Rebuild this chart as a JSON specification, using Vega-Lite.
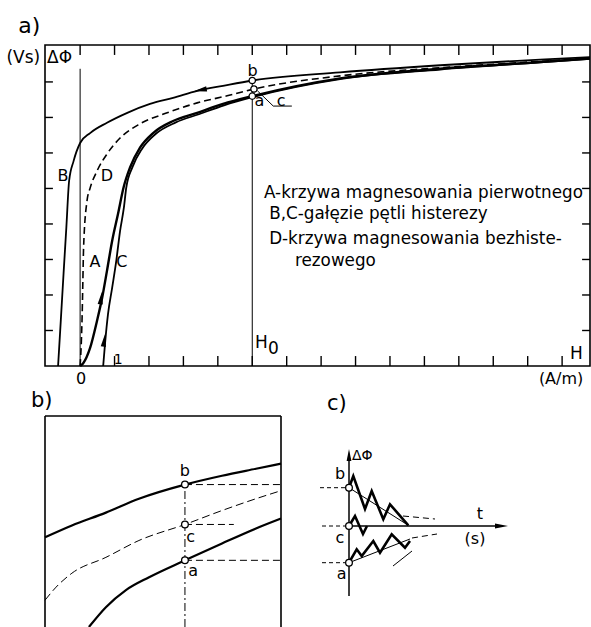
{
  "$schema": "https://vega.github.io/schema/vega-lite/v6.json",
  "padding": {"left": 5, "top": 14, "right": 0, "bottom": 0},
  "bounds": "flush",
  "spacing": 50,
  "config": {
    "view": {"stroke": null},
    "font": "DejaVu Sans",
    "title": {"fontSize": 21, "fontWeight": "normal", "anchor": "start", "frame": "group", "baseline": "alphabetic", "color": "black", "font": "DejaVu Sans"}
  },
  "datasets": {
    "aR": [
      {"s": "ref", "x": 0, "x2": 0, "y": 0, "y2": 8.37},
      {"s": "ref", "x": 5, "x2": 5, "y": 0, "y2": 8.04},
      {"s": "tick", "x": 0, "x2": 0, "y": 9.04, "y2": 8.76},
      {"s": "tick", "x": 1, "x2": 1, "y": 9.04, "y2": 8.76},
      {"s": "tick", "x": 2, "x2": 2, "y": 9.04, "y2": 8.76},
      {"s": "tick", "x": 3, "x2": 3, "y": 9.04, "y2": 8.76},
      {"s": "tick", "x": 4, "x2": 4, "y": 9.04, "y2": 8.76},
      {"s": "tick", "x": 5, "x2": 5, "y": 9.04, "y2": 8.76},
      {"s": "tick", "x": 6, "x2": 6, "y": 9.04, "y2": 8.76},
      {"s": "tick", "x": 7, "x2": 7, "y": 9.04, "y2": 8.76},
      {"s": "tick", "x": 8, "x2": 8, "y": 9.04, "y2": 8.76},
      {"s": "tick", "x": 9, "x2": 9, "y": 9.04, "y2": 8.76},
      {"s": "tick", "x": 10, "x2": 10, "y": 9.04, "y2": 8.76},
      {"s": "tick", "x": 11, "x2": 11, "y": 9.04, "y2": 8.76},
      {"s": "tick", "x": 12, "x2": 12, "y": 9.04, "y2": 8.76},
      {"s": "tick", "x": 13, "x2": 13, "y": 9.04, "y2": 8.76},
      {"s": "tick", "x": 14, "x2": 14, "y": 9.04, "y2": 8.76},
      {"s": "tick", "x": 1, "x2": 1, "y": 0, "y2": 0.28},
      {"s": "tick", "x": 2, "x2": 2, "y": 0, "y2": 0.28},
      {"s": "tick", "x": 3, "x2": 3, "y": 0, "y2": 0.28},
      {"s": "tick", "x": 4, "x2": 4, "y": 0, "y2": 0.28},
      {"s": "tick", "x": 5, "x2": 5, "y": 0, "y2": 0.28},
      {"s": "tick", "x": 6, "x2": 6, "y": 0, "y2": 0.28},
      {"s": "tick", "x": 7, "x2": 7, "y": 0, "y2": 0.28},
      {"s": "tick", "x": 8, "x2": 8, "y": 0, "y2": 0.28},
      {"s": "tick", "x": 9, "x2": 9, "y": 0, "y2": 0.28},
      {"s": "tick", "x": 10, "x2": 10, "y": 0, "y2": 0.28},
      {"s": "tick", "x": 11, "x2": 11, "y": 0, "y2": 0.28},
      {"s": "tick", "x": 12, "x2": 12, "y": 0, "y2": 0.28},
      {"s": "tick", "x": 13, "x2": 13, "y": 0, "y2": 0.28},
      {"s": "tick", "x": 14, "x2": 14, "y": 0, "y2": 0.28},
      {"s": "tick", "x": -1.02, "x2": -0.79, "y": 1, "y2": 1},
      {"s": "tick", "x": -1.02, "x2": -0.79, "y": 2, "y2": 2},
      {"s": "tick", "x": -1.02, "x2": -0.79, "y": 3, "y2": 3},
      {"s": "tick", "x": -1.02, "x2": -0.79, "y": 4, "y2": 4},
      {"s": "tick", "x": -1.02, "x2": -0.79, "y": 5, "y2": 5},
      {"s": "tick", "x": -1.02, "x2": -0.79, "y": 6, "y2": 6},
      {"s": "tick", "x": -1.02, "x2": -0.79, "y": 7, "y2": 7},
      {"s": "tick", "x": -1.02, "x2": -0.79, "y": 8, "y2": 8},
      {"s": "tick", "x": 14.81, "x2": 14.58, "y": 1, "y2": 1},
      {"s": "tick", "x": 14.81, "x2": 14.58, "y": 2, "y2": 2},
      {"s": "tick", "x": 14.81, "x2": 14.58, "y": 3, "y2": 3},
      {"s": "tick", "x": 14.81, "x2": 14.58, "y": 4, "y2": 4},
      {"s": "tick", "x": 14.81, "x2": 14.58, "y": 5, "y2": 5},
      {"s": "tick", "x": 14.81, "x2": 14.58, "y": 6, "y2": 6},
      {"s": "tick", "x": 14.81, "x2": 14.58, "y": 7, "y2": 7},
      {"s": "tick", "x": 14.81, "x2": 14.58, "y": 8, "y2": 8}
    ],
    "aL": [
      {"s": "B", "x": -0.64, "y": 0}, {"s": "B", "x": -0.56, "y": 1.3}, {"s": "B", "x": -0.48, "y": 2.62}, {"s": "B", "x": -0.40, "y": 3.9}, {"s": "B", "x": -0.32, "y": 5.21}, {"s": "B", "x": -0.19, "y": 5.77}, {"s": "B", "x": 0, "y": 6.28}, {"s": "B", "x": 0.29, "y": 6.56}, {"s": "B", "x": 0.78, "y": 6.85}, {"s": "B", "x": 1.37, "y": 7.13}, {"s": "B", "x": 2.03, "y": 7.38}, {"s": "B", "x": 2.70, "y": 7.55}, {"s": "B", "x": 3.40, "y": 7.75}, {"s": "B", "x": 4.15, "y": 7.89}, {"s": "B", "x": 5.0, "y": 8.04}, {"s": "B", "x": 7.55, "y": 8.27}, {"s": "B", "x": 10.46, "y": 8.47}, {"s": "B", "x": 13.36, "y": 8.63}, {"s": "B", "x": 14.81, "y": 8.70},
      {"s": "D", "x": 0, "y": 0}, {"s": "D", "x": 0.04, "y": 0.8}, {"s": "D", "x": 0.06, "y": 1.46}, {"s": "D", "x": 0.08, "y": 2.4}, {"s": "D", "x": 0.10, "y": 3.32}, {"s": "D", "x": 0.20, "y": 4.65}, {"s": "D", "x": 0.29, "y": 5.01}, {"s": "D", "x": 0.49, "y": 5.49}, {"s": "D", "x": 0.78, "y": 5.97}, {"s": "D", "x": 1.16, "y": 6.42}, {"s": "D", "x": 1.74, "y": 6.82}, {"s": "D", "x": 2.53, "y": 7.13}, {"s": "D", "x": 3.40, "y": 7.41}, {"s": "D", "x": 4.27, "y": 7.61}, {"s": "D", "x": 5.05, "y": 7.80}, {"s": "D", "x": 7.55, "y": 8.17}, {"s": "D", "x": 10.46, "y": 8.40}, {"s": "D", "x": 13.36, "y": 8.58}, {"s": "D", "x": 14.81, "y": 8.67},
      {"s": "A", "x": 0, "y": 0}, {"s": "A", "x": 0.09, "y": 0.08}, {"s": "A", "x": 0.29, "y": 0.51}, {"s": "A", "x": 0.49, "y": 1.27}, {"s": "A", "x": 0.64, "y": 1.92}, {"s": "A", "x": 0.78, "y": 2.68}, {"s": "A", "x": 0.93, "y": 3.52}, {"s": "A", "x": 1.10, "y": 4.28}, {"s": "A", "x": 1.26, "y": 5.02}, {"s": "A", "x": 1.45, "y": 5.59}, {"s": "A", "x": 1.74, "y": 6.15}, {"s": "A", "x": 2.12, "y": 6.56}, {"s": "A", "x": 2.70, "y": 6.90}, {"s": "A", "x": 3.40, "y": 7.13}, {"s": "A", "x": 4.15, "y": 7.38}, {"s": "A", "x": 5.0, "y": 7.60}, {"s": "A", "x": 7.55, "y": 8.10}, {"s": "A", "x": 10.46, "y": 8.37}, {"s": "A", "x": 13.36, "y": 8.56}, {"s": "A", "x": 14.81, "y": 8.66},
      {"s": "C", "x": 0.67, "y": 0}, {"s": "C", "x": 0.73, "y": 0.70}, {"s": "C", "x": 0.81, "y": 1.46}, {"s": "C", "x": 0.93, "y": 2.20}, {"s": "C", "x": 1.05, "y": 2.96}, {"s": "C", "x": 1.16, "y": 3.80}, {"s": "C", "x": 1.27, "y": 4.45}, {"s": "C", "x": 1.34, "y": 5.02}, {"s": "C", "x": 1.52, "y": 5.6}, {"s": "C", "x": 1.80, "y": 6.12}, {"s": "C", "x": 2.20, "y": 6.54}, {"s": "C", "x": 2.78, "y": 6.86}, {"s": "C", "x": 3.45, "y": 7.09}, {"s": "C", "x": 4.18, "y": 7.34}, {"s": "C", "x": 5.0, "y": 7.57}, {"s": "C", "x": 7.55, "y": 8.08}, {"s": "C", "x": 10.46, "y": 8.35}, {"s": "C", "x": 13.36, "y": 8.55}, {"s": "C", "x": 14.81, "y": 8.65},
      {"s": "lead", "x": 5.15, "y": 7.75}, {"s": "lead", "x": 5.61, "y": 7.32}, {"s": "lead", "x": 6.15, "y": 7.32}
    ],
    "aP": [
      {"x": 5, "y": 8.04}, {"x": 5.05, "y": 7.80}, {"x": 5, "y": 7.60}
    ],
    "aArrow": [
      {"d": "up", "x": 0.61, "y": 1.92}, {"d": "up", "x": 0.70, "y": 0.73}, {"d": "left", "x": 3.49, "y": 7.77}
    ],
    "aT": [
      {"g": "lab", "t": "B", "x": -0.50, "y": 5.35},
      {"g": "lab", "t": "D", "x": 0.78, "y": 5.35},
      {"g": "lab", "t": "A", "x": 0.43, "y": 2.93},
      {"g": "lab", "t": "C", "x": 1.21, "y": 2.93},
      {"g": "lab", "t": "b", "x": 5.01, "y": 8.31},
      {"g": "lab", "t": "a", "x": 5.21, "y": 7.45},
      {"g": "lab", "t": "c", "x": 5.84, "y": 7.47},
      {"g": "leg", "t": "A-krzywa magnesowania pierwotnego", "x": 5.34, "y": 4.73},
      {"g": "leg", "t": "B,C-gałęzie pętli histerezy", "x": 5.49, "y": 4.14},
      {"g": "leg", "t": "D-krzywa magnesowania bezhiste-", "x": 5.49, "y": 3.44},
      {"g": "leg", "t": "rezowego", "x": 6.24, "y": 2.82},
      {"g": "ctr", "t": "0", "x": 0.03, "y": -0.37},
      {"g": "ctr", "t": "(A/m)", "x": 13.97, "y": -0.37},
      {"g": "H", "t": "H", "x": 5.08, "y": 0.51},
      {"g": "H", "t": "0", "x": 5.46, "y": 0.34},
      {"g": "H", "t": "H", "x": 14.23, "y": 0.2},
      {"g": "one", "t": "1", "x": 0.98, "y": 0.06},
      {"g": "vs", "t": "(Vs)", "x": -1.16, "y": 8.68},
      {"g": "phi", "t": "ΔΦ", "x": -0.96, "y": 8.68},
      {"g": "panel", "t": "a)", "x": -1.80, "y": 9.38}
    ],
    "bR": [
      {"s": "frame", "x": 0, "x2": 0, "y": 0, "y2": 10},
      {"s": "frame", "x": 0, "x2": 10, "y": 10, "y2": 10},
      {"s": "frame", "x": 10, "x2": 10, "y": 0, "y2": 10},
      {"s": "dd", "x": 5.93, "x2": 5.93, "y": 0, "y2": 6.75},
      {"s": "dash", "x": 5.93, "x2": 10, "y": 6.75, "y2": 6.75},
      {"s": "dash", "x": 5.93, "x2": 8.0, "y": 4.86, "y2": 4.86},
      {"s": "dash", "x": 5.93, "x2": 10, "y": 3.16, "y2": 3.16}
    ],
    "bL": [
      {"s": "top", "x": 0, "y": 4.25}, {"s": "top", "x": 1.14, "y": 4.81}, {"s": "top", "x": 2.58, "y": 5.42}, {"s": "top", "x": 3.98, "y": 6.08}, {"s": "top", "x": 5.93, "y": 6.75}, {"s": "top", "x": 7.5, "y": 7.17}, {"s": "top", "x": 8.94, "y": 7.5}, {"s": "top", "x": 10, "y": 7.74},
      {"s": "mid", "x": 0, "y": 1.27}, {"s": "mid", "x": 0.47, "y": 1.89}, {"s": "mid", "x": 1.14, "y": 2.55}, {"s": "mid", "x": 2.58, "y": 3.30}, {"s": "mid", "x": 3.98, "y": 4.10}, {"s": "mid", "x": 5.93, "y": 4.86}, {"s": "mid", "x": 7.5, "y": 5.52}, {"s": "mid", "x": 8.94, "y": 6.08}, {"s": "mid", "x": 10, "y": 6.46},
      {"s": "bot", "x": 1.86, "y": 0}, {"s": "bot", "x": 2.58, "y": 0.94}, {"s": "bot", "x": 3.43, "y": 1.75}, {"s": "bot", "x": 4.41, "y": 2.36}, {"s": "bot", "x": 5.93, "y": 3.16}, {"s": "bot", "x": 7.5, "y": 3.96}, {"s": "bot", "x": 8.94, "y": 4.67}, {"s": "bot", "x": 10, "y": 5.14}
    ],
    "bP": [
      {"x": 5.93, "y": 6.75}, {"x": 5.93, "y": 4.86}, {"x": 5.93, "y": 3.16}
    ],
    "bT": [
      {"t": "b", "x": 5.93, "y": 7.37},
      {"t": "c", "x": 6.17, "y": 4.26},
      {"t": "a", "x": 6.28, "y": 2.66}
    ],
    "cR": [
      {"s": "axis", "x": 0, "x2": 0, "y": -7.0, "y2": 6.6},
      {"s": "axis", "x": 0, "x2": 14.7, "y": 0, "y2": 0},
      {"s": "dash", "x": -2.9, "x2": -0.4, "y": 3.83, "y2": 3.83},
      {"s": "dash", "x": -2.7, "x2": -0.4, "y": 0, "y2": 0},
      {"s": "dash", "x": -2.7, "x2": -0.4, "y": -3.67, "y2": -3.67}
    ],
    "cL": [
      {"s": "zb", "x": 0, "y": 3.83}, {"s": "zb", "x": 0.43, "y": 5.0}, {"s": "zb", "x": 1.6, "y": 1.7}, {"s": "zb", "x": 2.27, "y": 3.5}, {"s": "zb", "x": 3.43, "y": 0.67}, {"s": "zb", "x": 4.1, "y": 2.17}, {"s": "zb", "x": 5.93, "y": 0.07},
      {"s": "zc", "x": 0, "y": 0}, {"s": "zc", "x": 0.6, "y": 1.0}, {"s": "zc", "x": 1.4, "y": -0.8}, {"s": "zc", "x": 1.8, "y": 0},
      {"s": "za", "x": 0, "y": -3.67}, {"s": "za", "x": 0.77, "y": -2.33}, {"s": "za", "x": 1.27, "y": -3.0}, {"s": "za", "x": 2.43, "y": -1.5}, {"s": "za", "x": 3.1, "y": -2.67}, {"s": "za", "x": 4.27, "y": -0.83}, {"s": "za", "x": 5.6, "y": -2.17}, {"s": "za", "x": 6.1, "y": -1.5},
      {"s": "mb", "x": 0, "y": 3.83}, {"s": "mb", "x": 5.93, "y": 0.07},
      {"s": "ma", "x": 0, "y": -3.67}, {"s": "ma", "x": 6.1, "y": -1.3},
      {"s": "la", "x": 4.4, "y": -4.0}, {"s": "la", "x": 6.3, "y": -2.5},
      {"s": "db", "x": 5.4, "y": 1.0}, {"s": "db", "x": 8.6, "y": 0.7},
      {"s": "da", "x": 6.3, "y": -1.2}, {"s": "da", "x": 8.8, "y": -0.8}
    ],
    "cP": [
      {"x": 0, "y": 3.83}, {"x": 0, "y": 0}, {"x": 0, "y": -3.67}
    ],
    "cArrow": [
      {"d": "up", "x": 0, "y": 7.1},
      {"d": "right", "x": 15.25, "y": 0}
    ],
    "cT": [
      {"g": "lab", "t": "b", "x": -0.9, "y": 5.17},
      {"g": "lab", "t": "c", "x": -0.9, "y": -1.17},
      {"g": "lab", "t": "a", "x": -0.73, "y": -4.83},
      {"g": "lab", "t": "t", "x": 13.1, "y": 1.2},
      {"g": "lab", "t": "(s)", "x": 12.6, "y": -1.3},
      {"g": "phi", "t": "ΔΦ", "x": 0.3, "y": 7.0}
    ]
  },
  "vconcat": [
    {
      "width": 545,
      "height": 321,
      "view": {"stroke": "black", "strokeWidth": 1.6},
      "encoding": {
        "x": {"field": "x", "type": "quantitative", "scale": {"domain": [-1.02, 14.81], "nice": false, "zero": false}, "axis": null},
        "y": {"field": "y", "type": "quantitative", "scale": {"domain": [0, 9.04], "nice": false, "zero": false}, "axis": null}
      },
      "layer": [
        {"data": {"name": "aR"}, "transform": [{"filter": "datum.s == 'tick'"}], "mark": {"type": "rule", "color": "black", "strokeWidth": 1.4}, "encoding": {"x2": {"field": "x2"}, "y2": {"field": "y2"}}},
        {"data": {"name": "aR"}, "transform": [{"filter": "datum.s == 'ref'"}], "mark": {"type": "rule", "color": "black", "strokeWidth": 1}, "encoding": {"x2": {"field": "x2"}, "y2": {"field": "y2"}}},
        {"data": {"name": "aL"}, "transform": [{"filter": "datum.s == 'B'"}], "mark": {"type": "line", "color": "black", "strokeWidth": 1.8, "interpolate": "monotone"}, "encoding": {}},
        {"data": {"name": "aL"}, "transform": [{"filter": "datum.s == 'D'"}], "mark": {"type": "line", "color": "black", "strokeWidth": 1.6, "strokeDash": [7, 4], "interpolate": "monotone"}, "encoding": {}},
        {"data": {"name": "aL"}, "transform": [{"filter": "datum.s == 'A'"}], "mark": {"type": "line", "color": "black", "strokeWidth": 2.4, "interpolate": "monotone"}, "encoding": {}},
        {"data": {"name": "aL"}, "transform": [{"filter": "datum.s == 'C'"}], "mark": {"type": "line", "color": "black", "strokeWidth": 1.8, "interpolate": "monotone"}, "encoding": {}},
        {"data": {"name": "aL"}, "transform": [{"filter": "datum.s == 'lead'"}], "mark": {"type": "line", "color": "black", "strokeWidth": 1}, "encoding": {}},
        {"data": {"name": "aP"}, "mark": {"type": "point", "shape": "circle", "filled": true, "fill": "white", "stroke": "black", "strokeWidth": 1.3, "size": 40, "opacity": 1}},
        {"data": {"name": "aArrow"}, "transform": [{"filter": "datum.d == 'up'"}], "mark": {"type": "point", "shape": "M0,-1L0.4,1L-0.4,1Z", "filled": true, "color": "black", "size": 169, "angle": 8, "opacity": 1}},
        {"data": {"name": "aArrow"}, "transform": [{"filter": "datum.d == 'left'"}], "mark": {"type": "point", "shape": "M0,-1L0.4,1L-0.4,1Z", "filled": true, "color": "black", "size": 169, "angle": 259, "opacity": 1}},
        {"data": {"name": "aT"}, "transform": [{"filter": "datum.g == 'lab'"}], "mark": {"type": "text", "fontSize": 16, "align": "center", "baseline": "middle", "color": "black"}, "encoding": {"text": {"field": "t"}}},
        {"data": {"name": "aT"}, "transform": [{"filter": "datum.g == 'leg'"}], "mark": {"type": "text", "fontSize": 16.8, "align": "left", "baseline": "alphabetic", "color": "black"}, "encoding": {"text": {"field": "t"}}},
        {"data": {"name": "aT"}, "transform": [{"filter": "datum.g == 'ctr'"}], "mark": {"type": "text", "fontSize": 16, "align": "center", "baseline": "middle", "color": "black"}, "encoding": {"text": {"field": "t"}}},
        {"data": {"name": "aT"}, "transform": [{"filter": "datum.g == 'H'"}], "mark": {"type": "text", "fontSize": 17, "align": "left", "baseline": "alphabetic", "color": "black"}, "encoding": {"text": {"field": "t"}}},
        {"data": {"name": "aT"}, "transform": [{"filter": "datum.g == 'one'"}], "mark": {"type": "text", "fontSize": 14, "align": "left", "baseline": "alphabetic", "color": "black"}, "encoding": {"text": {"field": "t"}}},
        {"data": {"name": "aT"}, "transform": [{"filter": "datum.g == 'vs'"}], "mark": {"type": "text", "fontSize": 17, "align": "right", "baseline": "middle", "color": "black"}, "encoding": {"text": {"field": "t"}}},
        {"data": {"name": "aT"}, "transform": [{"filter": "datum.g == 'phi'"}], "mark": {"type": "text", "fontSize": 17, "align": "left", "baseline": "middle", "color": "black"}, "encoding": {"text": {"field": "t"}}},
        {"data": {"name": "aT"}, "transform": [{"filter": "datum.g == 'panel'"}], "mark": {"type": "text", "fontSize": 22, "align": "left", "baseline": "alphabetic", "color": "black"}, "encoding": {"text": {"field": "t"}}}
      ]
    },
    {
      "hconcat": [
        {
          "width": 236,
          "height": 211,
          "title": {"text": "b)", "dx": -14, "offset": 4},
          "encoding": {
            "x": {"field": "x", "type": "quantitative", "scale": {"domain": [0, 10], "nice": false, "zero": false}, "axis": null},
            "y": {"field": "y", "type": "quantitative", "scale": {"domain": [0, 10], "nice": false, "zero": false}, "axis": null}
          },
          "layer": [
            {"data": {"name": "bR"}, "transform": [{"filter": "datum.s == 'frame'"}], "mark": {"type": "rule", "color": "black", "strokeWidth": 1.6}, "encoding": {"x2": {"field": "x2"}, "y2": {"field": "y2"}}},
            {"data": {"name": "bR"}, "transform": [{"filter": "datum.s == 'dd'"}], "mark": {"type": "rule", "color": "black", "strokeWidth": 1, "strokeDash": [8, 3, 2, 3]}, "encoding": {"x2": {"field": "x2"}, "y2": {"field": "y2"}}},
            {"data": {"name": "bR"}, "transform": [{"filter": "datum.s == 'dash'"}], "mark": {"type": "rule", "color": "black", "strokeWidth": 1, "strokeDash": [7, 4]}, "encoding": {"x2": {"field": "x2"}, "y2": {"field": "y2"}}},
            {"data": {"name": "bL"}, "transform": [{"filter": "datum.s == 'top' || datum.s == 'bot'"}], "mark": {"type": "line", "color": "black", "strokeWidth": 2.2, "interpolate": "monotone"}, "encoding": {"detail": {"field": "s"}}},
            {"data": {"name": "bL"}, "transform": [{"filter": "datum.s == 'mid'"}], "mark": {"type": "line", "color": "black", "strokeWidth": 1, "strokeDash": [8, 4], "interpolate": "monotone"}, "encoding": {}},
            {"data": {"name": "bP"}, "mark": {"type": "point", "shape": "circle", "filled": true, "fill": "white", "stroke": "black", "strokeWidth": 1.3, "size": 45, "opacity": 1}},
            {"data": {"name": "bT"}, "mark": {"type": "text", "fontSize": 16, "align": "center", "baseline": "middle", "color": "black"}, "encoding": {"text": {"field": "t"}}}
          ]
        },
        {
          "width": 200,
          "height": 211,
          "title": {"text": "c)", "dx": 10, "offset": 2},
          "encoding": {
            "x": {"field": "x", "type": "quantitative", "scale": {"domain": [-3.2, 16.8], "nice": false, "zero": false}, "axis": null},
            "y": {"field": "y", "type": "quantitative", "scale": {"domain": [-10.1, 11.0], "nice": false, "zero": false}, "axis": null}
          },
          "layer": [
            {"data": {"name": "cR"}, "transform": [{"filter": "datum.s == 'axis'"}], "mark": {"type": "rule", "color": "black", "strokeWidth": 1.5}, "encoding": {"x2": {"field": "x2"}, "y2": {"field": "y2"}}},
            {"data": {"name": "cR"}, "transform": [{"filter": "datum.s == 'dash'"}], "mark": {"type": "rule", "color": "black", "strokeWidth": 1, "strokeDash": [4, 3]}, "encoding": {"x2": {"field": "x2"}, "y2": {"field": "y2"}}},
            {"data": {"name": "cL"}, "transform": [{"filter": "datum.s == 'zb' || datum.s == 'zc' || datum.s == 'za'"}], "mark": {"type": "line", "color": "black", "strokeWidth": 2.6, "strokeJoin": "miter"}, "encoding": {"detail": {"field": "s"}}},
            {"data": {"name": "cL"}, "transform": [{"filter": "datum.s == 'mb' || datum.s == 'ma' || datum.s == 'la'"}], "mark": {"type": "line", "color": "black", "strokeWidth": 1}, "encoding": {"detail": {"field": "s"}}},
            {"data": {"name": "cL"}, "transform": [{"filter": "datum.s == 'db' || datum.s == 'da'"}], "mark": {"type": "line", "color": "black", "strokeWidth": 1, "strokeDash": [6, 4]}, "encoding": {"detail": {"field": "s"}}},
            {"data": {"name": "cArrow"}, "transform": [{"filter": "datum.d == 'up'"}], "mark": {"type": "point", "shape": "M0,-1L0.4,1L-0.4,1Z", "filled": true, "color": "black", "size": 144, "angle": 0, "opacity": 1}},
            {"data": {"name": "cArrow"}, "transform": [{"filter": "datum.d == 'right'"}], "mark": {"type": "point", "shape": "M0,-1L0.4,1L-0.4,1Z", "filled": true, "color": "black", "size": 169, "angle": 90, "opacity": 1}},
            {"data": {"name": "cP"}, "mark": {"type": "point", "shape": "circle", "filled": true, "fill": "white", "stroke": "black", "strokeWidth": 1.3, "size": 45, "opacity": 1}},
            {"data": {"name": "cT"}, "transform": [{"filter": "datum.g == 'lab'"}], "mark": {"type": "text", "fontSize": 16, "align": "center", "baseline": "middle", "color": "black"}, "encoding": {"text": {"field": "t"}}},
            {"data": {"name": "cT"}, "transform": [{"filter": "datum.g == 'phi'"}], "mark": {"type": "text", "fontSize": 14, "align": "left", "baseline": "middle", "color": "black"}, "encoding": {"text": {"field": "t"}}}
          ]
        }
      ],
      "spacing": 36,
      "bounds": "flush"
    }
  ]
}
